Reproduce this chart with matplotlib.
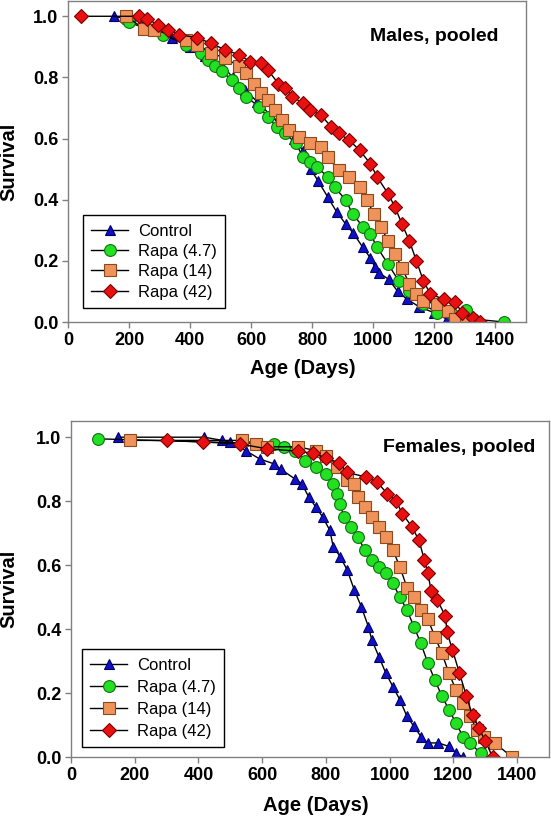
import matplotlib
matplotlib.use("Agg")
import matplotlib.pyplot as plt

plt.rcParams['font.family'] = ['Liberation Sans', 'DejaVu Sans']

# ---- males, pooled (age in days, fraction surviving) ----
m_ctrl_age = [150, 250, 300, 340, 400, 450, 500, 540, 580, 620, 660, 700, 740, 770, 795, 820,
              850, 880, 910, 935, 965, 990, 1005, 1020, 1050, 1080, 1110, 1150, 1200, 1240, 1260]
m_ctrl_s = [1.0, 0.98, 0.96, 0.93, 0.90, 0.87, 0.845, 0.80, 0.76, 0.72, 0.68, 0.64, 0.60, 0.56, 0.50, 0.46,
            0.41, 0.36, 0.32, 0.29, 0.245, 0.21, 0.18, 0.16, 0.14, 0.10, 0.075, 0.05, 0.03, 0.01, 0.0]

m_r47_age = [190, 200, 312, 387, 434, 457, 480, 503, 538, 561, 584, 625, 654, 683, 712, 746, 770,
             793, 816, 851, 874, 909, 932, 967, 990, 1013, 1048, 1083, 1118, 1164, 1210, 1257, 1303, 1326, 1428]
m_r47_s = [0.99, 0.98, 0.94, 0.907, 0.88, 0.857, 0.836, 0.82, 0.79, 0.765, 0.737, 0.704, 0.671, 0.639, 0.617, 0.584, 0.54,
           0.524, 0.507, 0.474, 0.44, 0.40, 0.354, 0.31, 0.288, 0.244, 0.19, 0.135, 0.10, 0.058, 0.03, 0.025, 0.04, 0.01, 0.0]

m_r14_age = [190, 248, 283, 387, 422, 468, 515, 561, 584, 608, 631, 654, 677, 700, 724, 758, 793, 828,
             851, 886, 921, 955, 978, 1002, 1025, 1048, 1071, 1094, 1118, 1141, 1164, 1210, 1245, 1268, 1303]
m_r14_s = [1.0, 0.96, 0.956, 0.923, 0.907, 0.88, 0.863, 0.836, 0.814, 0.78, 0.748, 0.726, 0.693, 0.66, 0.628, 0.606, 0.584, 0.573,
           0.54, 0.496, 0.474, 0.44, 0.40, 0.354, 0.31, 0.266, 0.222, 0.178, 0.124, 0.091, 0.069, 0.058, 0.036, 0.009, 0.0]

m_r42_age = [42, 234, 260, 295, 329, 364, 422, 468, 515, 561, 596, 631, 654, 689, 712, 735, 770, 793, 828,
             862, 886, 921, 955, 990, 1013, 1048, 1071, 1094, 1118, 1141, 1164, 1187, 1233, 1268, 1291, 1326, 1349]
m_r42_s = [1.0, 1.0, 0.99, 0.973, 0.956, 0.94, 0.93, 0.912, 0.89, 0.874, 0.852, 0.847, 0.825, 0.78, 0.765, 0.737, 0.715, 0.693, 0.677,
           0.639, 0.617, 0.595, 0.562, 0.518, 0.474, 0.42, 0.376, 0.32, 0.266, 0.20, 0.135, 0.091, 0.074, 0.064, 0.031, 0.014, 0.0]

# ---- females, pooled ----
f_ctrl_age = [148, 418, 475, 500, 548, 592, 636, 658, 702, 724, 746, 768, 790, 812, 823, 845, 867, 889,
              911, 933, 944, 966, 988, 1010, 1032, 1054, 1076, 1098, 1120, 1153, 1186, 1208, 1230]
f_ctrl_s = [1.0, 1.0, 0.99, 0.985, 0.958, 0.932, 0.917, 0.90, 0.87, 0.855, 0.813, 0.782, 0.75, 0.709, 0.657, 0.626, 0.584, 0.522,
            0.47, 0.408, 0.366, 0.314, 0.262, 0.22, 0.179, 0.127, 0.096, 0.064, 0.044, 0.044, 0.033, 0.012, 0.0]

f_r47_age = [84, 637, 669, 702, 735, 768, 801, 823, 834, 845, 856, 878, 900, 922, 944, 966, 988, 1010,
             1032, 1054, 1076, 1098, 1120, 1142, 1164, 1186, 1208, 1230, 1252, 1285]
f_r47_s = [0.995, 0.979, 0.969, 0.958, 0.927, 0.906, 0.885, 0.855, 0.823, 0.792, 0.75, 0.72, 0.688, 0.647, 0.616, 0.595, 0.574, 0.543,
           0.50, 0.46, 0.408, 0.355, 0.293, 0.24, 0.19, 0.148, 0.106, 0.064, 0.044, 0.012]

f_r14_age = [185, 537, 581, 614, 713, 768, 801, 834, 867, 889, 900, 922, 944, 966, 988, 1010, 1032, 1054,
             1076, 1098, 1120, 1142, 1164, 1186, 1208, 1230, 1252, 1274, 1296, 1329, 1384]
f_r14_s = [0.99, 0.99, 0.98, 0.97, 0.97, 0.958, 0.94, 0.906, 0.865, 0.855, 0.813, 0.782, 0.75, 0.72, 0.688, 0.647, 0.595, 0.53,
           0.50, 0.46, 0.43, 0.376, 0.324, 0.262, 0.21, 0.168, 0.127, 0.085, 0.064, 0.044, 0.0]

f_r42_age = [300, 414, 529, 614, 711, 760, 800, 840, 867, 927, 960, 993, 1020, 1040, 1070, 1092, 1109, 1120,
             1130, 1150, 1175, 1180, 1197, 1219, 1241, 1260, 1280, 1300, 1323]
f_r42_s = [0.99, 0.985, 0.979, 0.964, 0.956, 0.95, 0.935, 0.92, 0.89, 0.875, 0.86, 0.823, 0.80, 0.76, 0.72, 0.677, 0.616, 0.574,
           0.52, 0.49, 0.44, 0.39, 0.335, 0.262, 0.19, 0.13, 0.09, 0.05, 0.0]

labels = ['Control', 'Rapa (4.7)', 'Rapa (14)', 'Rapa (42)']
markers = ['^', 'o', 's', 'D']
faces = ['#1010C8', '#22E022', '#F0935A', '#E81010']
edges = ['#000060', '#107010', '#8A4A20', '#7A0000']
sizes = [7, 8.5, 8, 7.5]

males = [(m_ctrl_age, m_ctrl_s), (m_r47_age, m_r47_s), (m_r14_age, m_r14_s), (m_r42_age, m_r42_s)]
females = [(f_ctrl_age, f_ctrl_s), (f_r47_age, f_r47_s), (f_r14_age, f_r14_s), (f_r42_age, f_r42_s)]

fig = plt.figure(figsize=(5.51, 8.19), dpi=100)
ax1 = fig.add_axes([0.1234, 0.6068, 0.8312, 0.392])
ax2 = fig.add_axes([0.1289, 0.0757, 0.8675, 0.410])


def draw_panel(ax, groups, title, tx, ty, leg_anchor, ylab_x, spacing):
	for i, (age, s) in enumerate(groups):
		ax.plot(age, s, color='black', lw=1.0, marker=markers[i], ms=sizes[i],
				markerfacecolor=faces[i], markeredgecolor=edges[i], markeredgewidth=0.8,
				label=labels[i])
	ax.set_xlim(0, 1500)
	ax.set_ylim(0, 1.05)
	ax.set_xticks([0, 200, 400, 600, 800, 1000, 1200, 1400])
	ax.set_yticks([0.0, 0.2, 0.4, 0.6, 0.8, 1.0])
	ax.set_yticklabels(['0.0', '0.2', '0.4', '0.6', '0.8', '1.0'])
	for sp in ax.spines.values():
		sp.set_color('#808080')
		sp.set_linewidth(1.0)
	ax.tick_params(direction='out', length=4, width=1, color='#808080', labelsize=13, pad=3)
	for t in ax.get_xticklabels() + ax.get_yticklabels():
		t.set_fontweight('bold')
	ax.set_xlabel('Age (Days)', fontsize=14.5, fontweight='bold')
	ax.set_ylabel('Survival', fontsize=14.5, fontweight='bold')
	ax.yaxis.set_label_coords(ylab_x, 0.5)
	ax.xaxis.set_label_coords(0.513, -0.115)
	ax.text(tx, ty, title, transform=ax.transAxes, ha='right', va='center',
			fontsize=14, fontweight='bold')
	leg = ax.legend(loc='lower left', bbox_to_anchor=leg_anchor, borderaxespad=0,
					fontsize=12, numpoints=1, handlelength=2.2, handletextpad=0.6,
					labelspacing=spacing, fancybox=False, edgecolor='black', framealpha=1,
					borderpad=0.5)
	leg.get_frame().set_linewidth(1.0)


draw_panel(ax1, males, 'Males, pooled', 0.939, 0.888, (0.033, 0.044), -0.108, 0.32)
draw_panel(ax2, females, 'Females, pooled', 0.971, 0.923, (0.023, 0.03), -0.11, 0.42)

fig.savefig('out.png', dpi=100)
